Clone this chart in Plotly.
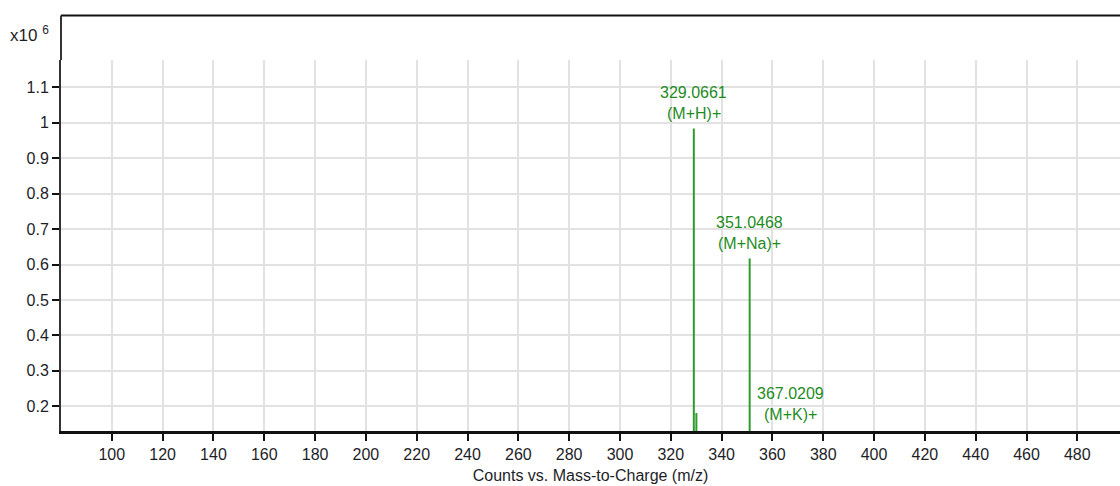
import plotly.graph_objects as go

# Centroided peaks: m/z and intensity (x10^6 counts)
peak_mz = [329.0661, 330.0695, 351.0468, 352.0502, 367.0209]
peak_counts = [0.984, 0.181, 0.617, 0.112, 0.110]

# Annotated ions
label_mz = [329.0661, 351.0468, 367.0209]
label_counts = [0.984, 0.617, 0.110]
label_mass = ["329.0661", "351.0468", "367.0209"]
label_ion = ["(M+H)+", "(M+Na)+", "(M+K)+"]

x_ticks = list(range(100, 481, 20))
y_ticks = [0.2, 0.3, 0.4, 0.5, 0.6, 0.7, 0.8, 0.9, 1.0, 1.1]
y_tick_text = ["0.2", "0.3", "0.4", "0.5", "0.6", "0.7", "0.8", "0.9", "1", "1.1"]

X_RANGE = [80.0, 496.8]
Y_RANGE = [0.1303, 1.177]

FONT = "Liberation Sans, Arial, sans-serif"
FS = 16
STICK = "#2e9b2e"
LABEL = "#1f8c1f"
INK = "#1e1e28"

# Stick spectrum: each peak is a vertical segment from the baseline
xs, ys = [], []
for mz, c in zip(peak_mz, peak_counts):
    xs += [mz, mz, None]
    ys += [0, c, None]

fig = go.Figure()
fig.add_trace(go.Scatter(x=xs, y=ys, mode="lines",
                         line=dict(color=STICK, width=2),
                         hoverinfo="skip", showlegend=False))

# Two-line peak labels; labels of peaks below the visible floor sit on the axis
annotations = []
for mz, c, mass, ion in zip(label_mz, label_counts, label_mass, label_ion):
    yb = max(c, Y_RANGE[0] + 0.005)
    annotations.append(dict(x=mz, y=yb, xref="x", yref="y", text=ion,
                            showarrow=False, xanchor="center", yanchor="bottom",
                            yshift=4, font=dict(family=FONT, size=FS, color=LABEL)))
    annotations.append(dict(x=mz, y=yb, xref="x", yref="y", text=mass,
                            showarrow=False, xanchor="center", yanchor="bottom",
                            yshift=25, font=dict(family=FONT, size=FS, color=LABEL)))

annotations.append(dict(x=0, y=1.07, xref="paper", yref="paper",
                        text="x10 <sup>6</sup>", showarrow=False,
                        xanchor="right", yanchor="middle", xshift=-10,
                        font=dict(family=FONT, size=17, color=INK)))

plot_h = 486 - 60 - 55
top_border = 1 + 44.5 / plot_h

shapes = [
    # frame above the plotting area
    dict(type="line", xref="paper", yref="paper", x0=0, x1=1,
         y0=top_border, y1=top_border, line=dict(color="#111", width=2)),
    dict(type="line", xref="paper", yref="paper", x0=0, x1=0,
         y0=1, y1=top_border, line=dict(color="#333", width=2)),
]

fig.update_layout(
    width=1120, height=486,
    margin=dict(l=61, r=0, t=60, b=55),
    paper_bgcolor="white", plot_bgcolor="white",
    font=dict(family=FONT, size=FS, color=INK),
    annotations=annotations, shapes=shapes,
    xaxis=dict(range=X_RANGE, tickvals=x_ticks,
               showgrid=True, gridcolor="#e2e2e2", gridwidth=2,
               showline=True, linecolor="#111", linewidth=3,
               ticks="outside", ticklen=7, tickwidth=2, tickcolor="#111",
               tickfont=dict(family=FONT, size=FS, color=INK),
               zeroline=False,
               title=dict(text="Counts vs. Mass-to-Charge (m/z)", standoff=8,
                          font=dict(family=FONT, size=FS, color=INK))),
    yaxis=dict(range=Y_RANGE, tickvals=y_ticks, ticktext=y_tick_text,
               showgrid=True, gridcolor="#e2e2e2", gridwidth=2,
               showline=True, linecolor="#333", linewidth=2,
               ticks="outside", ticklen=7, tickwidth=2, tickcolor="#111",
               tickfont=dict(family=FONT, size=FS, color=INK),
               zeroline=False),
)

fig.write_html("out.html")
